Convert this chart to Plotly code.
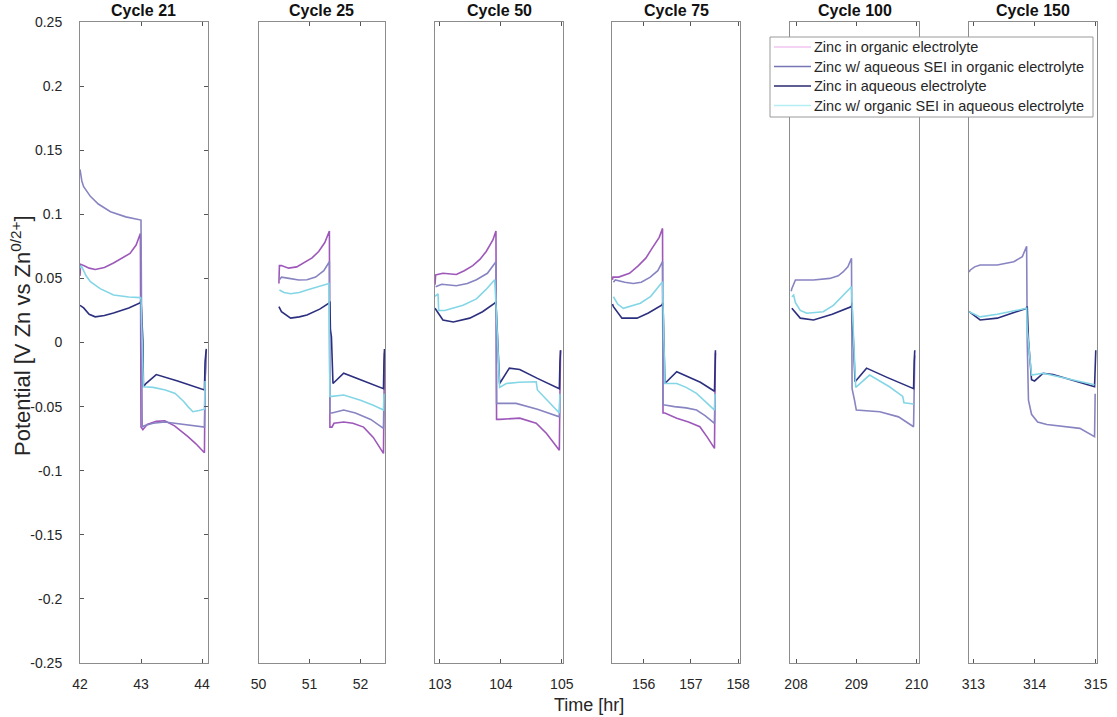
import plotly.graph_objects as go

# ---------------- data ----------------
cycle_titles = ["Cycle 21", "Cycle 25", "Cycle 50", "Cycle 75", "Cycle 100", "Cycle 150"]
x_ranges = [[42.0, 44.09], [50.0, 52.48], [102.92, 105.02], [155.33, 158.04], [207.9, 210.04], [312.92, 315.02]]
x_ticks = [[42, 43, 44], [50, 51, 52], [103, 104, 105], [156, 157, 158], [208, 209, 210], [313, 314, 315]]

y_tickvals = [0.25, 0.2, 0.15, 0.1, 0.05, 0, -0.05, -0.1, -0.15, -0.2, -0.25]
y_ticktext = ["0.25", "0.2", "0.15", "0.1", "0.05", "0", "-0.05", "-0.1", "-0.15", "-0.2", "-0.25"]

series_names = ["Zinc in organic electrolyte",
                "Zinc w/ aqueous SEI in organic electrolyte",
                "Zinc in aqueous electrolyte",
                "Zinc w/ organic SEI in aqueous electrolyte"]

# Cycle 21
c21_org_t = [42.0, 42.01, 42.06, 42.15, 42.25, 42.4, 42.55, 42.7, 42.82, 42.92, 42.99, 43.0, 43.03, 43.1, 43.25, 43.39, 43.55, 43.77, 43.9, 44.04, 44.05, 44.07]
c21_org_v = [0.052, 0.061, 0.060, 0.058, 0.057, 0.0585, 0.062, 0.066, 0.0695, 0.076, 0.085, -0.066, -0.068, -0.064, -0.0615, -0.061, -0.065, -0.0735, -0.079, -0.086, -0.03, -0.006]
c21_aqsei_t = [42.0, 42.03, 42.06, 42.17, 42.3, 42.5, 42.75, 42.99, 43.0, 43.02, 43.05, 43.2, 43.39, 44.04, 44.05, 44.07]
c21_aqsei_v = [0.135, 0.126, 0.1215, 0.114, 0.108, 0.102, 0.098, 0.0955, 0.0955, -0.066, -0.065, -0.063, -0.062, -0.066, -0.03, -0.008]
c21_aq_t = [42.0, 42.06, 42.15, 42.25, 42.4, 42.55, 42.8, 42.99, 43.0, 43.02, 43.03, 43.04, 43.08, 43.25, 43.6, 44.04, 44.05, 44.07]
c21_aq_v = [0.029, 0.027, 0.022, 0.020, 0.021, 0.023, 0.027, 0.031, 0.034, 0.015, 0.002, -0.0345, -0.032, -0.025, -0.030, -0.037, -0.015, -0.005]
c21_orgsei_t = [42.0, 42.02, 42.1, 42.17, 42.33, 42.55, 42.8, 42.99, 43.0, 43.04, 43.2, 43.4, 43.56, 43.7, 43.77, 43.85, 43.95, 44.04, 44.05]
c21_orgsei_v = [0.058, 0.060, 0.052, 0.0475, 0.042, 0.037, 0.0355, 0.035, 0.034, -0.0345, -0.035, -0.037, -0.0397, -0.046, -0.050, -0.054, -0.053, -0.052, -0.03]

# Cycle 25
c25_org_t = [50.40, 50.41, 50.45, 50.59, 50.75, 50.92, 51.05, 51.18, 51.30, 51.39, 51.40, 51.44, 51.48, 51.67, 51.85, 52.06, 52.25, 52.45, 52.46, 52.47]
c25_org_v = [0.046, 0.060, 0.060, 0.058, 0.059, 0.063, 0.066, 0.071, 0.078, 0.087, -0.066, -0.066, -0.063, -0.062, -0.063, -0.066, -0.074, -0.0865, -0.04, -0.008]
c25_aqsei_t = [50.41, 50.45, 50.6, 50.79, 50.95, 51.12, 51.28, 51.39, 51.40, 51.44, 51.67, 51.9, 52.2, 52.45, 52.46]
c25_aqsei_v = [0.049, 0.051, 0.050, 0.0488, 0.049, 0.051, 0.056, 0.063, -0.055, -0.055, -0.0527, -0.055, -0.060, -0.067, -0.04]
c25_aq_t = [50.40, 50.45, 50.63, 50.8, 50.95, 51.2, 51.38, 51.40, 51.41, 51.43, 51.46, 51.67, 52.0, 52.45, 52.46, 52.47]
c25_aq_v = [0.028, 0.024, 0.019, 0.020, 0.0215, 0.026, 0.0306, 0.032, 0.010, 0.0045, -0.032, -0.024, -0.029, -0.036, -0.015, -0.005]
c25_orgsei_t = [50.41, 50.5, 50.63, 50.8, 50.95, 51.2, 51.38, 51.40, 51.44, 51.67, 52.0, 52.25, 52.45, 52.46]
c25_orgsei_v = [0.041, 0.039, 0.038, 0.039, 0.041, 0.044, 0.046, -0.042, -0.042, -0.041, -0.045, -0.049, -0.0527, -0.04]

# Cycle 50
c50_org_t = [102.92, 102.93, 103.05, 103.27, 103.4, 103.54, 103.66, 103.76, 103.87, 103.92, 103.93, 103.98, 104.31, 104.58, 104.75, 104.96, 104.97, 104.98]
c50_org_v = [0.045, 0.0527, 0.054, 0.053, 0.056, 0.060, 0.065, 0.071, 0.080, 0.087, -0.060, -0.060, -0.059, -0.063, -0.071, -0.084, -0.04, -0.006]
c50_aqsei_t = [102.93, 103.03, 103.27, 103.45, 103.60, 103.78, 103.92, 103.93, 103.98, 104.25, 104.6, 104.96, 104.97]
c50_aqsei_v = [0.0435, 0.0454, 0.0443, 0.046, 0.049, 0.054, 0.063, -0.0475, -0.0475, -0.0475, -0.052, -0.058, -0.04]
c50_aq_t = [102.92, 103.05, 103.22, 103.49, 103.7, 103.90, 103.92, 103.94, 103.95, 103.98, 104.14, 104.31, 104.6, 104.96, 104.97, 104.98]
c50_aq_v = [0.0267, 0.0176, 0.016, 0.019, 0.024, 0.0306, 0.032, 0.010, 0.0045, -0.032, -0.020, -0.021, -0.028, -0.036, -0.015, -0.006]
c50_orgsei_t = [102.92, 102.97, 102.98, 103.08, 103.38, 103.6, 103.75, 103.90, 103.92, 103.98, 104.09, 104.3, 104.58, 104.60, 104.8, 104.96, 104.97]
c50_orgsei_v = [0.036, 0.038, 0.025, 0.025, 0.029, 0.034, 0.041, 0.049, 0.030, -0.035, -0.032, -0.031, -0.0306, -0.037, -0.047, -0.055, -0.04]

# Cycle 75
c75_org_t = [155.34, 155.35, 155.47, 155.7, 155.89, 156.05, 156.17, 156.33, 156.40, 156.41, 156.45, 156.70, 156.95, 157.19, 157.35, 157.50, 157.51, 157.52]
c75_org_v = [0.0488, 0.051, 0.051, 0.054, 0.060, 0.066, 0.073, 0.082, 0.089, -0.055, -0.055, -0.059, -0.062, -0.0657, -0.074, -0.0826, -0.04, -0.008]
c75_aqsei_t = [155.36, 155.40, 155.6, 155.78, 155.95, 156.14, 156.30, 156.40, 156.41, 156.45, 156.65, 156.9, 157.12, 157.30, 157.50, 157.51]
c75_aqsei_v = [0.047, 0.0488, 0.047, 0.046, 0.047, 0.051, 0.056, 0.063, -0.0488, -0.0488, -0.050, -0.051, -0.0527, -0.057, -0.063, -0.04]
c75_aq_t = [155.34, 155.36, 155.54, 155.86, 156.1, 156.39, 156.41, 156.42, 156.43, 156.45, 156.70, 156.91, 157.2, 157.50, 157.51, 157.52]
c75_aq_v = [0.030, 0.028, 0.019, 0.019, 0.023, 0.0293, 0.031, 0.010, 0.0045, -0.032, -0.0228, -0.026, -0.031, -0.038, -0.015, -0.006]
c75_orgsei_t = [155.36, 155.45, 155.57, 155.93, 156.15, 156.40, 156.41, 156.45, 156.70, 156.9, 157.12, 157.3, 157.50, 157.51]
c75_orgsei_v = [0.0357, 0.030, 0.0267, 0.0306, 0.036, 0.0474, 0.030, -0.032, -0.032, -0.035, -0.0397, -0.046, -0.0527, -0.04]

# Cycle 100 (no data for zinc in organic electrolyte)
c100_org_t = []
c100_org_v = []
c100_aqsei_t = [207.92, 207.93, 207.99, 208.29, 208.56, 208.70, 208.78, 208.86, 208.92, 208.93, 208.97, 209.0, 209.39, 209.7, 209.95, 209.96, 209.97]
c100_aqsei_v = [0.040, 0.042, 0.0488, 0.0488, 0.050, 0.052, 0.055, 0.059, 0.0657, -0.036, -0.045, -0.0527, -0.054, -0.058, -0.0657, -0.04, -0.01]
c100_aq_t = [207.93, 208.07, 208.29, 208.6, 208.92, 208.93, 208.94, 208.95, 208.98, 209.17, 209.5, 209.95, 209.96, 209.97]
c100_aq_v = [0.0267, 0.019, 0.0176, 0.022, 0.028, 0.031, 0.010, 0.0035, -0.0306, -0.020, -0.027, -0.036, -0.015, -0.006]
c100_orgsei_t = [207.93, 207.96, 207.99, 208.07, 208.18, 208.45, 208.62, 208.78, 208.92, 208.93, 208.99, 209.22, 209.55, 209.77, 209.79, 209.95]
c100_orgsei_v = [0.0357, 0.037, 0.031, 0.025, 0.0228, 0.024, 0.029, 0.037, 0.0435, 0.030, -0.035, -0.0254, -0.0345, -0.042, -0.047, -0.048]

# Cycle 150 (no data for zinc in organic electrolyte)
c150_org_t = []
c150_org_v = []
c150_aqsei_t = [312.93, 312.95, 313.02, 313.11, 313.39, 313.66, 313.80, 313.87, 313.88, 313.90, 313.95, 314.05, 314.2, 314.74, 314.98, 314.99]
c150_aqsei_v = [0.055, 0.0566, 0.059, 0.0605, 0.0605, 0.063, 0.067, 0.075, 0.0, -0.045, -0.056, -0.062, -0.064, -0.067, -0.0735, -0.04]
c150_aq_t = [312.93, 313.11, 313.39, 313.87, 313.88, 313.89, 313.90, 313.95, 314.0, 314.14, 314.3, 314.98, 314.99, 315.0]
c150_aq_v = [0.024, 0.0176, 0.019, 0.0267, 0.028, 0.010, 0.002, -0.029, -0.030, -0.024, -0.025, -0.0345, -0.015, -0.006]
c150_orgsei_t = [312.93, 313.11, 313.39, 313.87, 313.88, 313.95, 314.14, 314.5, 314.98]
c150_orgsei_v = [0.024, 0.020, 0.022, 0.0267, 0.010, -0.0254, -0.024, -0.028, -0.033]

panels = [
    [(c21_org_t, c21_org_v), (c21_aqsei_t, c21_aqsei_v), (c21_aq_t, c21_aq_v), (c21_orgsei_t, c21_orgsei_v)],
    [(c25_org_t, c25_org_v), (c25_aqsei_t, c25_aqsei_v), (c25_aq_t, c25_aq_v), (c25_orgsei_t, c25_orgsei_v)],
    [(c50_org_t, c50_org_v), (c50_aqsei_t, c50_aqsei_v), (c50_aq_t, c50_aq_v), (c50_orgsei_t, c50_orgsei_v)],
    [(c75_org_t, c75_org_v), (c75_aqsei_t, c75_aqsei_v), (c75_aq_t, c75_aq_v), (c75_orgsei_t, c75_orgsei_v)],
    [(c100_org_t, c100_org_v), (c100_aqsei_t, c100_aqsei_v), (c100_aq_t, c100_aq_v), (c100_orgsei_t, c100_orgsei_v)],
    [(c150_org_t, c150_org_v), (c150_aqsei_t, c150_aqsei_v), (c150_aq_t, c150_aq_v), (c150_orgsei_t, c150_orgsei_v)],
]

# ---------------- styling ----------------
W, H = 1117, 717
line_colors = ["#9d58ba", "#8884c2", "#2c2f7e", "#84d6e6"]
legend_colors = ["#f0c4f0", "#7676b6", "#28286e", "#b4eef2"]
FONT = "Liberation Sans, Arial, sans-serif"
panel_px = [(80, 207.5), (258.5, 385), (435, 563), (612, 740), (790, 919), (968.5, 1097)]
y_top_px, y_bot_px = 22, 663
y_dom = [1 - y_bot_px / H, 1 - y_top_px / H]

fig = go.Figure()

for i, panel in enumerate(panels):
    xa = "x" if i == 0 else f"x{i+1}"
    ya = "y" if i == 0 else f"y{i+1}"
    for k, (t, v) in enumerate(panel):
        if len(t) == 0:
            continue
        fig.add_trace(go.Scatter(x=t, y=v, mode="lines", xaxis=xa, yaxis=ya,
                                 name=series_names[k],
                                 line=dict(color=line_colors[k], width=1.6),
                                 showlegend=False, hoverinfo="skip"))

layout = dict(
    width=W, height=H,
    margin=dict(l=0, r=0, t=0, b=0, autoexpand=False),
    paper_bgcolor="white", plot_bgcolor="white",
    font=dict(family=FONT, size=14, color="#262626"),
    showlegend=False,
)

for i in range(6):
    xk = "xaxis" if i == 0 else f"xaxis{i+1}"
    yk = "yaxis" if i == 0 else f"yaxis{i+1}"
    xs = "x" if i == 0 else f"x{i+1}"
    ys = "y" if i == 0 else f"y{i+1}"
    x0, x1 = panel_px[i]
    layout[xk] = dict(domain=[x0 / W, x1 / W], anchor=ys, range=x_ranges[i],
                      tickvals=x_ticks[i], ticktext=[str(v) for v in x_ticks[i]],
                      ticks="inside", ticklen=4, tickcolor="#555555", tickwidth=1,
                      showline=True, linecolor="#8c8c8c", linewidth=1, mirror="ticks",
                      showgrid=False, zeroline=False, ticklabelstandoff=8, automargin=False,
                      tickfont=dict(family=FONT, size=14, color="#262626"))
    ydict = dict(domain=y_dom, anchor=xs, range=[-0.25, 0.25], automargin=False,
                 showline=True, linecolor="#8c8c8c", linewidth=1,
                 showgrid=False, zeroline=False)
    if i == 0:
        ydict.update(tickvals=y_tickvals, ticktext=y_ticktext, ticks="inside",
                     ticklen=4, tickcolor="#555555", tickwidth=1, mirror="ticks",
                     ticklabelstandoff=14,
                     tickfont=dict(family=FONT, size=14, color="#262626"))
    else:
        ydict.update(showticklabels=False, ticks="", mirror=True, matches="y")
    layout[yk] = ydict

annotations = []
for i, title in enumerate(cycle_titles):
    x0, x1 = panel_px[i]
    annotations.append(dict(text="<b>" + title + "</b>", x=(x0 + x1) / 2 / W, y=1 - 11 / H,
                            xref="paper", yref="paper", showarrow=False,
                            xanchor="center", yanchor="middle",
                            font=dict(family=FONT, size=16, color="#111111")))
annotations.append(dict(text="Time [hr]", x=589 / W, y=1 - 705 / H, xref="paper", yref="paper",
                        showarrow=False, xanchor="center", yanchor="middle",
                        font=dict(family=FONT, size=18, color="#262626")))
annotations.append(dict(text="Potential [V Zn vs Zn<sup>0/2+</sup>]", x=21 / W, y=1 - 336 / H,
                        xref="paper", yref="paper", showarrow=False, textangle=-90,
                        xanchor="center", yanchor="middle",
                        font=dict(family=FONT, size=22, color="#262626")))

# legend box drawn as shapes + text (top right)
shapes = [dict(type="rect", xref="paper", yref="paper", layer="above",
               x0=770 / W, x1=1093 / W, y0=1 - 117 / H, y1=1 - 37 / H,
               fillcolor="white", line=dict(color="#9a9a9a", width=1))]
legend_rows_px = [47, 66.5, 86, 105.5]
for k, name in enumerate(series_names):
    yp = 1 - legend_rows_px[k] / H
    shapes.append(dict(type="line", xref="paper", yref="paper", layer="above",
                       x0=774 / W, x1=811 / W, y0=yp, y1=yp,
                       line=dict(color=legend_colors[k], width=1.5)))
    annotations.append(dict(text=name, x=812 / W, y=yp, xref="paper", yref="paper",
                            showarrow=False, xanchor="left", yanchor="middle",
                            font=dict(family=FONT, size=14.5, color="#262626")))
layout["shapes"] = shapes
layout["annotations"] = annotations

fig.update_layout(**layout)
fig.write_html("out.html")
